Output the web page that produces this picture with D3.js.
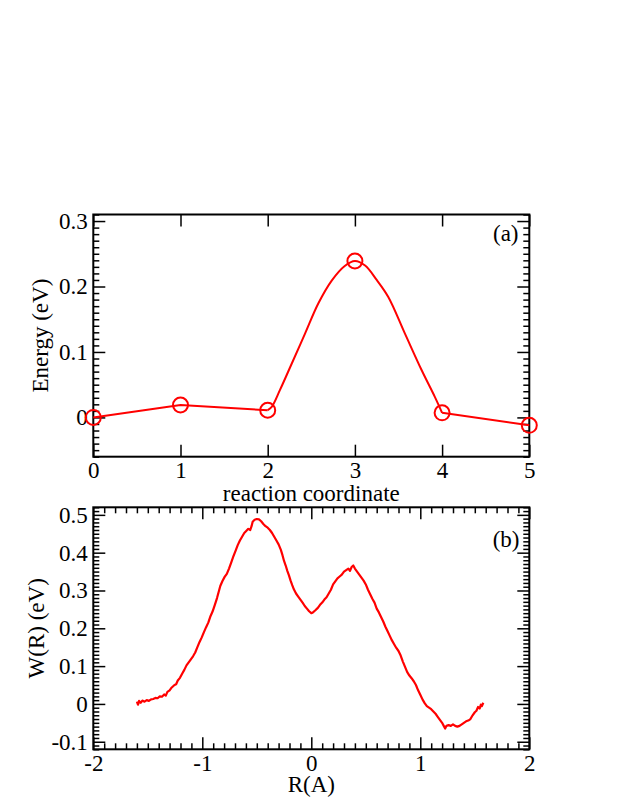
<!DOCTYPE html>
<html>
<head>
<meta charset="utf-8">
<script src="https://cdn.jsdelivr.net/npm/d3@7"></script>
<style>
  html, body { margin: 0; padding: 0; background: #fff; }
  svg { display: block; }
</style>
</head>
<body>
<svg id="chart" width="623" height="806"></svg>
<script>
// ---------- Panel (a) data ----------
const imageIndex = [0, 1, 2, 3, 4, 5];
const imageEnergy = [0.000, 0.019, 0.011, 0.239, 0.007, -0.012];
// smooth interpolating curve between images 2 and 4
const curveX = [2.000, 2.046, 2.141, 2.275, 2.428, 2.580, 2.734, 2.880, 3.000, 3.117, 3.250, 3.383, 3.574, 3.766, 3.918, 4.000];
const curveE = [0.011, 0.016, 0.042, 0.082, 0.128, 0.174, 0.209, 0.231, 0.239, 0.232, 0.210, 0.184, 0.128, 0.072, 0.031, 0.007];
const aXTicks = [0, 1, 2, 3, 4, 5];
const aXLabels = ["0", "1", "2", "3", "4", "5"];
const aYTicks = [0, 0.1, 0.2, 0.3];
const aYLabels = ["0", "0.1", "0.2", "0.3"];

// ---------- Panel (b) data ----------
const rValues = [
 -1.600,-1.590,-1.580,-1.565,-1.550,-1.530,-1.510,-1.490,-1.470,-1.450,
 -1.430,-1.410,-1.390,-1.370,-1.350,-1.335,-1.320,-1.300,-1.285,-1.270,
 -1.255,-1.240,-1.225,-1.205,-1.185,-1.165,-1.145,-1.125,-1.105,-1.085,
 -1.065,-1.045,-1.025,-1.005,-0.985,-0.965,-0.945,-0.925,-0.905,-0.885,
 -0.865,-0.850,-0.835,-0.815,-0.795,-0.775,-0.755,-0.735,-0.715,-0.695,
 -0.675,-0.655,-0.635,-0.615,-0.595,-0.578,-0.560,-0.548,-0.538,-0.520,
 -0.500,-0.480,-0.460,-0.440,-0.420,-0.400,-0.380,-0.360,-0.340,-0.320,
 -0.300,-0.280,-0.265,-0.250,-0.235,-0.220,-0.205,-0.190,-0.175,-0.160,
 -0.140,-0.120,-0.100,-0.080,-0.060,-0.040,-0.020, 0.000, 0.015, 0.035,
  0.060, 0.080, 0.100, 0.120, 0.140, 0.160, 0.180, 0.200, 0.220, 0.240,
  0.260, 0.280, 0.300, 0.320, 0.340, 0.355, 0.370, 0.385, 0.400, 0.420,
  0.440, 0.460, 0.480, 0.500, 0.520, 0.540, 0.560, 0.580, 0.600, 0.620,
  0.640, 0.660, 0.680, 0.700, 0.720, 0.740, 0.760, 0.780, 0.800, 0.820,
  0.840, 0.860, 0.880, 0.900, 0.920, 0.940, 0.960, 0.980, 1.000, 1.020,
  1.040, 1.060, 1.080, 1.100, 1.120, 1.140, 1.160, 1.180, 1.200, 1.215,
  1.228, 1.240, 1.260, 1.280, 1.300, 1.320, 1.340, 1.360, 1.380, 1.400,
  1.420, 1.440, 1.460, 1.480, 1.500, 1.515, 1.530, 1.545, 1.555, 1.565, 1.578
];
const wValues = [
  0.006,-0.002, 0.008, 0.003, 0.009, 0.006, 0.010, 0.008, 0.012, 0.013,
  0.016, 0.015, 0.020, 0.019, 0.025, 0.022, 0.032, 0.036, 0.042, 0.046,
  0.050, 0.052, 0.062, 0.069, 0.080, 0.090, 0.102, 0.110, 0.118, 0.126,
  0.136, 0.150, 0.164, 0.176, 0.190, 0.203, 0.215, 0.232, 0.245, 0.262,
  0.280, 0.296, 0.312, 0.325, 0.336, 0.344, 0.358, 0.374, 0.390, 0.405,
  0.420, 0.432, 0.442, 0.452, 0.458, 0.463, 0.460, 0.470, 0.482, 0.487,
  0.489, 0.488, 0.483, 0.476, 0.470, 0.466, 0.460, 0.452, 0.442, 0.432,
  0.422, 0.408, 0.394, 0.378, 0.366, 0.352, 0.340, 0.326, 0.314, 0.303,
  0.292, 0.284, 0.276, 0.268, 0.259, 0.252, 0.245, 0.240, 0.242, 0.247,
  0.254, 0.262, 0.268, 0.276, 0.282, 0.292, 0.302, 0.316, 0.324, 0.332,
  0.337, 0.342, 0.350, 0.354, 0.358, 0.352, 0.362, 0.366, 0.358, 0.350,
  0.342, 0.334, 0.326, 0.316, 0.302, 0.290, 0.278, 0.268, 0.252, 0.242,
  0.230, 0.218, 0.204, 0.192, 0.180, 0.168, 0.158, 0.148, 0.140, 0.128,
  0.112, 0.098, 0.084, 0.075, 0.068, 0.060, 0.050, 0.036, 0.024, 0.012,
  0.002,-0.006,-0.010,-0.014,-0.020,-0.026,-0.034,-0.042,-0.050,-0.058,
 -0.065,-0.058,-0.056,-0.058,-0.054,-0.058,-0.060,-0.058,-0.054,-0.050,
 -0.046,-0.044,-0.040,-0.030,-0.022,-0.018,-0.008,-0.012,-0.002,-0.006, 0.003
];
const bXTicks = [-2, -1, 0, 1, 2];
const bXLabels = ["-2", "-1", "0", "1", "2"];
const bYTicks = [-0.1, 0, 0.1, 0.2, 0.3, 0.4, 0.5];
const bYLabels = ["-0.1", "0", "0.1", "0.2", "0.3", "0.4", "0.5"];

// ---------- Layout ----------
const svg = d3.select("#chart");
const FONT = 23;
const FAMILY = "'Liberation Serif', 'Times New Roman', Times, 'Nimbus Roman', 'DejaVu Serif', serif";
const RED = "#ff0000";
const left = 93.3, right = 529.3;
const panelA = { top: 214.5, bottom: 456.7 };
const panelB = { top: 507.3, bottom: 749.3 };

function range(a, b, step) {
  const out = [];
  const n = Math.round((b - a) / step);
  for (let i = 0; i <= n; i++) out.push(+(a + i * step).toFixed(6));
  return out;
}
function minorsOf(lo, hi, step, majors) {
  return range(lo, hi, step).filter(v => !majors.some(m => Math.abs(m - v) < 1e-9));
}
function addText(x, y, str, anchor, transform) {
  const t = svg.append("text")
    .attr("text-anchor", anchor)
    .attr("font-size", FONT)
    .attr("font-family", FAMILY)
    .attr("fill", "#000")
    .text(str);
  if (transform) t.attr("transform", transform);
  else t.attr("x", x).attr("y", y);
  return t;
}

function drawPanel(cfg) {
  const { x, y, xTicks, xLabels, yTicks, yLabels, xMinor, yMinor, top, bottom, xPad } = cfg;
  const g = svg.append("g");
  const fmt = (ticks, labels) => d => labels[ticks.findIndex(t => Math.abs(t - d) < 1e-9)];

  const ab = g.append("g").attr("transform", `translate(0,${bottom})`)
    .call(d3.axisBottom(x).tickValues(xTicks).tickSizeInner(-12).tickSizeOuter(0)
      .tickPadding(xPad).tickFormat(fmt(xTicks, xLabels)));
  const at = g.append("g").attr("transform", `translate(0,${top})`)
    .call(d3.axisTop(x).tickValues(xTicks).tickSizeInner(-12).tickSizeOuter(0).tickFormat(""));
  const al = g.append("g").attr("transform", `translate(${left},0)`)
    .call(d3.axisLeft(y).tickValues(yTicks).tickSizeInner(-12).tickSizeOuter(0)
      .tickPadding(5.5).tickFormat(fmt(yTicks, yLabels)));
  const ar = g.append("g").attr("transform", `translate(${right},0)`)
    .call(d3.axisRight(y).tickValues(yTicks).tickSizeInner(-12).tickSizeOuter(0).tickFormat(""));

  const minorGroups = [];
  if (xMinor.length) {
    minorGroups.push(g.append("g").attr("transform", `translate(0,${bottom})`)
      .call(d3.axisBottom(x).tickValues(xMinor).tickSizeInner(-6).tickSizeOuter(0).tickFormat("")));
    minorGroups.push(g.append("g").attr("transform", `translate(0,${top})`)
      .call(d3.axisTop(x).tickValues(xMinor).tickSizeInner(-6).tickSizeOuter(0).tickFormat("")));
  }
  if (yMinor.length) {
    minorGroups.push(g.append("g").attr("transform", `translate(${left},0)`)
      .call(d3.axisLeft(y).tickValues(yMinor).tickSizeInner(-6).tickSizeOuter(0).tickFormat("")));
    minorGroups.push(g.append("g").attr("transform", `translate(${right},0)`)
      .call(d3.axisRight(y).tickValues(yMinor).tickSizeInner(-6).tickSizeOuter(0).tickFormat("")));
  }

  [ab, at, al, ar, ...minorGroups].forEach(a => {
    a.select(".domain").remove();
    a.selectAll(".tick line").attr("stroke", "#000").attr("stroke-width", 1.5);
    a.attr("font-family", FAMILY).attr("font-size", FONT);
    a.selectAll("text").attr("font-size", FONT).attr("font-family", FAMILY).attr("fill", "#000");
  });

  g.append("rect")
    .attr("x", left).attr("y", top)
    .attr("width", right - left).attr("height", bottom - top)
    .attr("fill", "none").attr("stroke", "#000").attr("stroke-width", 2);
  return g;
}

// ---------- Panel (a) ----------
const xA = d3.scaleLinear().domain([0, 5]).range([left, right]);
const yA = d3.scaleLinear().domain([-0.06, 0.31]).range([panelA.bottom, panelA.top]);

drawPanel({
  x: xA, y: yA, xTicks: aXTicks, xLabels: aXLabels, yTicks: aYTicks, yLabels: aYLabels,
  xMinor: [], yMinor: minorsOf(-0.06, 0.31, 0.01, aYTicks),
  top: panelA.top, bottom: panelA.bottom, xPad: 5
});

const lineLin = d3.line().x(d => xA(d[0])).y(d => yA(d[1]));
const pts = imageIndex.map((v, i) => [v, imageEnergy[i]]);
svg.append("path").datum(pts.slice(0, 3)).attr("d", lineLin)
  .attr("fill", "none").attr("stroke", RED).attr("stroke-width", 2);
svg.append("path").datum(pts.slice(4, 6)).attr("d", lineLin)
  .attr("fill", "none").attr("stroke", RED).attr("stroke-width", 2);
const lineSmooth = d3.line().x(d => xA(d[0])).y(d => yA(d[1])).curve(d3.curveCatmullRom.alpha(0.5));
svg.append("path").datum(curveX.map((v, i) => [v, curveE[i]])).attr("d", lineSmooth)
  .attr("fill", "none").attr("stroke", RED).attr("stroke-width", 2);

svg.append("g").selectAll("circle").data(pts).join("circle")
  .attr("cx", d => xA(d[0])).attr("cy", d => yA(d[1])).attr("r", 7.5)
  .attr("fill", "none").attr("stroke", RED).attr("stroke-width", 2);

addText(518.5, 241, "(a)", "end");
addText((left + right) / 2, 501, "reaction coordinate", "middle");
addText(0, 0, "Energy (eV)", "middle", `translate(48,${(panelA.top + panelA.bottom) / 2}) rotate(-90)`);

// ---------- Panel (b) ----------
const xB = d3.scaleLinear().domain([-2, 2]).range([left, right]);
const yB = d3.scaleLinear().domain([-0.12, 0.52]).range([panelB.bottom, panelB.top]);

drawPanel({
  x: xB, y: yB, xTicks: bXTicks, xLabels: bXLabels, yTicks: bYTicks, yLabels: bYLabels,
  xMinor: minorsOf(-2, 2, 0.1, bXTicks), yMinor: minorsOf(-0.12, 0.52, 0.01, bYTicks),
  top: panelB.top, bottom: panelB.bottom, xPad: 5.5
});

const lineB = d3.line().x(d => xB(d[0])).y(d => yB(d[1]));
svg.append("path").datum(rValues.map((v, i) => [v, wValues[i]])).attr("d", lineB)
  .attr("fill", "none").attr("stroke", RED).attr("stroke-width", 2.2).attr("stroke-linejoin", "round");

addText(519.5, 547, "(b)", "end");
addText((left + right) / 2, 792, "R(A)", "middle");
addText(0, 0, "W(R) (eV)", "middle", `translate(44,${(panelB.top + panelB.bottom) / 2}) rotate(-90)`);
</script>
</body>
</html>
